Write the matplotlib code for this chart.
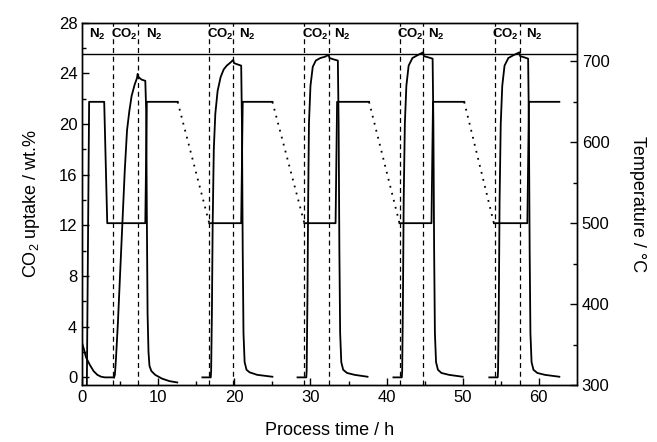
import numpy as np
import matplotlib
matplotlib.use("Agg")
import matplotlib.pyplot as plt

plt.rcParams['font.family'] = ['Liberation Sans', 'DejaVu Sans']
plt.rcParams['mathtext.fontset'] = 'custom'
plt.rcParams['mathtext.rm'] = 'Liberation Sans'
plt.rcParams['mathtext.default'] = 'regular'

# CO2 uptake (wt.%), one list per cycle
c0_t = [0.0, 0.2, 0.5, 1.0, 1.5, 2.0, 2.5, 3.0, 3.3, 4.2]
c0_v = [2.7, 2.3, 1.6, 1.0, 0.5, 0.2, 0.05, 0.0, 0.0, 0.0]

c1_t = [4.2, 4.3, 4.45, 4.7, 5.0, 5.3, 5.6, 5.9, 6.2, 6.5, 6.9, 7.2, 7.3, 7.4, 7.8, 8.3,
        8.42, 8.5, 8.6, 8.72, 8.85, 9.1, 9.6, 10.5, 11.5, 12.5]
c1_v = [0.0, 0.2, 1.5, 4.3, 8.3, 12.3, 16.3, 19.5, 21.0, 22.2, 23.1, 23.6, 23.95, 23.7, 23.5, 23.4,
        21.0, 13.0, 5.0, 2.0, 0.9, 0.5, 0.2, -0.1, -0.3, -0.4]

c2_t = [15.8, 16.9, 16.95, 17.05, 17.15, 17.3, 17.5, 17.8, 18.2, 18.6, 19.0, 19.5, 19.85, 19.95,
        20.4, 20.9, 21.0, 21.1, 21.2, 21.35, 21.6, 22.0, 23.0, 25.0]
c2_v = [0.0, 0.0, 0.5, 5.0, 12.0, 18.0, 20.8, 22.6, 23.7, 24.3, 24.6, 24.85, 25.05, 24.8,
        24.7, 24.6, 20.0, 10.0, 3.5, 1.2, 0.6, 0.4, 0.2, 0.05]

c3_t = [28.3, 29.45, 29.5, 29.6, 29.7, 29.8, 30.0, 30.3, 30.7, 31.3, 31.9, 32.4, 32.5,
        33.0, 33.6, 33.7, 33.8, 33.9, 34.05, 34.3, 34.8, 35.8, 37.5]
c3_v = [0.0, 0.0, 0.5, 6.0, 14.0, 20.0, 23.0, 24.5, 25.0, 25.2, 25.3, 25.45, 25.2,
        25.1, 25.0, 20.0, 10.0, 3.5, 1.2, 0.6, 0.35, 0.2, 0.05]

c4_t = [40.9, 42.0, 42.05, 42.15, 42.25, 42.4, 42.6, 42.9, 43.4, 44.0, 44.8, 44.9,
        45.5, 46.05, 46.15, 46.25, 46.35, 46.5, 46.75, 47.2, 48.2, 50.0]
c4_v = [0.0, 0.0, 0.5, 6.0, 14.0, 20.0, 23.0, 24.6, 25.2, 25.4, 25.65, 25.35,
        25.25, 25.15, 20.0, 10.0, 3.5, 1.2, 0.6, 0.35, 0.2, 0.05]

c5_t = [53.5, 54.6, 54.65, 54.75, 54.85, 55.0, 55.2, 55.5, 56.0, 56.6, 57.45, 57.55,
        58.1, 58.6, 58.7, 58.8, 58.9, 59.05, 59.3, 59.8, 60.8, 62.7]
c5_v = [0.0, 0.0, 0.5, 6.0, 14.0, 20.0, 23.0, 24.6, 25.2, 25.4, 25.65, 25.35,
        25.25, 25.15, 20.0, 10.0, 3.5, 1.2, 0.6, 0.35, 0.2, 0.05]

uptake = [(c0_t, c0_v), (c1_t, c1_v), (c2_t, c2_v), (c3_t, c3_v), (c4_t, c4_v), (c5_t, c5_v)]

# temperature programme (deg C), solid pieces and the dotted cooling ramps
temp_solid = [
    ([0.62, 0.92, 2.9, 3.3, 8.3, 8.5, 12.55], [300, 650, 650, 500, 500, 650, 650]),
    ([16.7, 20.9, 21.1, 25.0], [500, 500, 650, 650]),
    ([29.2, 33.3, 33.5, 37.7], [500, 500, 650, 650]),
    ([41.7, 45.9, 46.1, 50.2], [500, 500, 650, 650]),
    ([54.1, 58.5, 58.7, 62.7], [500, 500, 650, 650]),
]
temp_ramp = [
    ([12.55, 16.7], [650, 500]),
    ([25.0, 29.2], [650, 500]),
    ([37.7, 41.7], [650, 500]),
    ([50.2, 54.1], [650, 500]),
]

# gas switch times (h) and gas labels
switch_t = [4.0, 7.3, 16.7, 19.85, 29.2, 32.4, 41.7, 44.8, 54.2, 57.5]
gas_labels = ["N$_2$", "CO$_2$", "N$_2$", "CO$_2$", "N$_2$", "CO$_2$", "N$_2$",
              "CO$_2$", "N$_2$", "CO$_2$", "N$_2$"]
gas_label_t = [2.0, 5.6, 9.5, 18.2, 21.7, 30.7, 34.2, 43.2, 46.5, 55.6, 59.4]

fig = plt.figure(figsize=(6.57, 4.42), dpi=100)
ax = fig.add_axes([0.125, 0.129, 0.753, 0.82])
ax2 = ax.twinx()

for t, v in uptake:
    ax.plot(t, v, color='black', lw=1.3)

for t in switch_t:
    ax.axvline(t, color='black', lw=0.9, ls=(0, (4, 3)))

ax.axhline(25.5, color='black', lw=1.0)
for lab, t in zip(gas_labels, gas_label_t):
    ax.text(t, 27.05, lab, ha='center', va='center', fontsize=9.5, fontweight='bold')

for t, T in temp_solid:
    ax2.plot(t, T, color='black', lw=1.3)
for t, T in temp_ramp:
    ax2.plot(t, T, color='black', lw=1.3, ls=(0, (1, 3)))

ax.set_xlim(0, 65)
ax.set_ylim(-0.6, 28)
ax2.set_ylim(300, 748)

ax.set_xticks(np.arange(0, 61, 10))
ax.set_xticks(np.arange(5, 65, 10), minor=True)
ax.set_yticks(np.arange(0, 29, 4))
ax.set_yticks(np.arange(2, 28, 4), minor=True)
ax2.set_yticks([300, 400, 500, 600, 700])
ax2.set_yticks([350, 450, 550, 650], minor=True)

ax.tick_params(which='both', direction='in', top=False, labelsize=12, width=1)
ax.tick_params(which='major', length=5)
ax.tick_params(which='minor', length=3)
ax2.tick_params(which='both', direction='in', labelsize=12, width=1)
ax2.tick_params(which='major', length=5)
ax2.tick_params(which='minor', length=3)

ax.set_xlabel("Process time / h", fontsize=13, labelpad=12)
ax.set_ylabel("CO$_2$ uptake / wt.%", fontsize=13, labelpad=12)
ax2.set_ylabel("Temperature / \u00b0C", fontsize=13, rotation=270, labelpad=26)

for a in (ax, ax2):
    for s in a.spines.values():
        s.set_linewidth(1.0)

fig.savefig("out.png", dpi=100)
